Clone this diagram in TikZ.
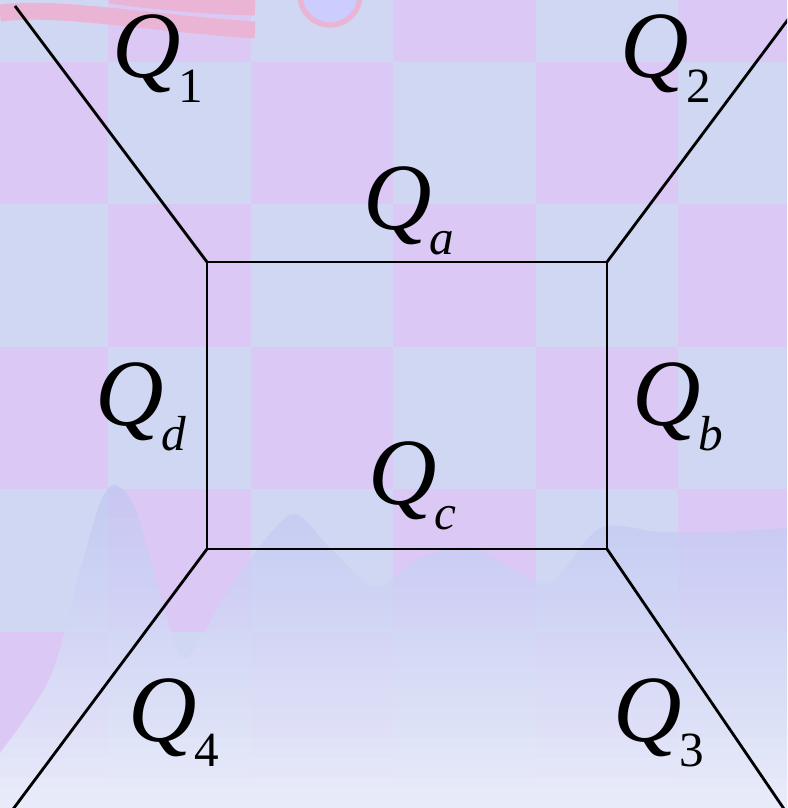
\documentclass[tikz,border=0pt]{standalone}
\usepackage{fontspec}
\setmainfont{Liberation Serif}
\usetikzlibrary{positioning}
\definecolor{tilepink}{RGB}{219,200,245}
\definecolor{tileblue}{RGB}{208,215,242}
\definecolor{wavepink}{RGB}{234,180,212}
\definecolor{sunfill}{RGB}{204,204,255}
\definecolor{seatop}{RGB}{192,198,242}
\definecolor{seabot}{RGB}{234,237,250}
\newcommand{\qlab}[1]{\textit{Q}\kern-0.03em\raisebox{-7pt}{\fontsize{14}{14}\selectfont #1}}

\begin{document}
\begin{tikzpicture}[
  lab/.style={anchor=base west, inner sep=0pt, font=\fontsize{27}{30}\selectfont},
  edge/.style={line width=0.8pt}]
  \useasboundingbox (0,0) rectangle (7.87,8.08);
  \clip (0,0) rectangle (7.87,8.08);
  \foreach \c in {0,...,5}
    \foreach \r in {0,...,6} {
      \pgfmathsetmacro{\xa}{-0.345+1.425*\c}
      \pgfmathsetmacro{\ya}{8.885-1.425*\r}
      \pgfmathtruncatemacro{\odd}{mod(\c+\r,2)}
      \ifnum\odd=1 \def\tc{tilepink}\else\def\tc{tileblue}\fi
      \fill[\tc] (\xa,\ya) rectangle ++(1.425,-1.425);
    }
  \begin{scope}
    \clip (0,7.4) rectangle (2.55,8.08);
    \draw[wavepink, line width=4.8pt] (0,7.95) .. controls (0.6,8.02) and (1.4,7.86) .. (2.55,7.78);
    \draw[wavepink, line width=4.8pt] (1.1,8.13) .. controls (1.6,8.06) and (2.1,8.02) .. (2.55,8.01);
  \end{scope}
  \filldraw[fill=sunfill, draw=wavepink, line width=1.5pt] (3.30,8.13) circle (0.30);
  \begin{scope}
    \clip (0,0) -- plot[smooth] coordinates {(0,0.55) (0.5,1.3) (0.78,2.3) (1.0,3.05) (1.15,3.23)
      (1.35,3.0) (1.6,2.15) (1.85,1.5) (2.3,2.2) (2.9,2.93) (3.3,2.6) (3.75,2.21) (4.2,2.5)
      (4.7,2.61) (5.1,2.4) (5.5,2.25) (6.0,2.8) (6.6,2.76) (7.2,2.76) (7.87,2.8)} -- (7.87,0) -- cycle;
    \foreach \i in {0,...,33} {
      \pgfmathsetmacro{\p}{100*\i/33}
      \pgfmathsetmacro{\op}{0.7+0.3*\i/33}
      \fill[seabot!\p!seatop, fill opacity=\op] (0,{3.3-0.1*\i}) rectangle (7.87,{3.2-0.1*\i});
    }
  \end{scope}
  \coordinate (tl) at (2.07,5.46);
  \coordinate (tr) at (6.07,5.46);
  \coordinate (bl) at (2.07,2.59);
  \coordinate (br) at (6.07,2.59);
  \coordinate (e1) at (0.15,8.02);
  \coordinate (e2) at (8.19,8.30);
  \coordinate (e3) at (7.97,-0.20);
  \coordinate (e4) at (-0.01,-0.20);
  \draw[edge] (tl) rectangle (br);
  \draw[edge] (tl) -- (e1);
  \draw[edge] (tr) -- (e2);
  \draw[edge] (br) -- (e3);
  \draw[edge] (bl) -- (e4);
  \node[lab] (q1) at (1.12,7.30) {\qlab{1}};
  \node[lab] (q2) at (6.20,7.30) {\qlab{2}};
  \node[lab] (qa) at (3.63,5.78) {\qlab{\textit{a}}};
  \node[lab] (qd) at (0.95,3.82) {\qlab{\textit{d}}};
  \node[lab] (qb) at (6.32,3.82) {\qlab{\textit{b}}};
  \node[lab] (qc) at (3.68,3.03) {\qlab{\textit{c}}};
  \node[lab] (q4) at (1.28,0.66) {\qlab{4}};
  \node[lab] (q3) at (6.13,0.66) {\qlab{3}};
\end{tikzpicture}
\end{document}
